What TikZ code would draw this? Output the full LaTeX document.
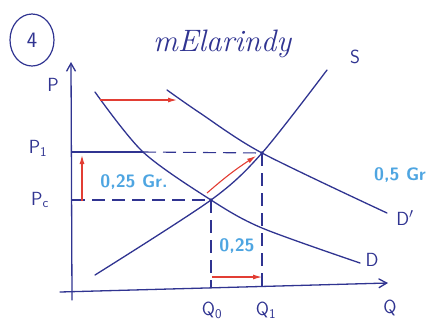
\documentclass[tikz,border=0pt]{standalone}
\usetikzlibrary{arrows.meta,shapes.geometric}
\definecolor{ink}{RGB}{48,52,145}
\definecolor{redink}{RGB}{226,62,52}
\definecolor{lightink}{RGB}{78,165,225}
\tikzset{
  curve/.style={ink,line width=1.3pt,line cap=round},
  axisline/.style={curve,-{Straight Barb[length=8pt,width=9pt]}},
  guide/.style={ink,line width=1.1pt,dash pattern=on 13pt off 7pt},
  shiftarrow/.style={redink,line width=1.1pt,-{Latex[length=9pt,width=5pt]}},
  lab/.style={ink,font=\fontsize{19}{21}\selectfont\sffamily},
  note/.style={lightink,font=\fontsize{18}{20}\selectfont\sffamily\bfseries}
}
\begin{document}
\begin{tikzpicture}[x=1pt,y=-1pt]
\useasboundingbox (0,0) rectangle (436,330);
% axes
\coordinate (ybot) at (72,300);
\coordinate (ytop) at (71,62);
\coordinate (xbeg) at (60,292);
\coordinate (xend) at (388,283);
\draw[axisline] (ybot) -- (ytop);
\draw[axisline] (xbeg) -- (xend);
% equilibria
\coordinate (E0) at (211,200);
\coordinate (E1) at (262,153);
\coordinate (P1) at (72,152);
\coordinate (Pc) at (72,200);
\coordinate (P1D) at (143,152);
\coordinate (Q0) at (211,288);
\coordinate (Q1) at (262,286);
% curves
\draw[curve] plot[smooth] coordinates {(95,275) (E0) (E1) (327,70)};
\draw[curve] plot[smooth] coordinates {(95,92) (P1D) (E0) (262,228) (360,263)};
\draw[curve] plot[smooth] coordinates {(167,90) (200,113) (E1) (387,213)};
\fill[ink] (E0) circle (1.8pt) (E1) circle (1.8pt);
% guides
\draw[curve,line width=1.1pt] (P1) -- (P1D);
\draw[guide] (P1D) -- (E1);
\draw[guide] (Pc) -- (E0);
\draw[guide] (E0) -- (Q0);
\draw[guide] (E1) -- (Q1);
% shifts
\coordinate (ra) at (100,100);
\coordinate (rb) at (177,100);
\draw[shiftarrow] (ra) -- (rb);
\coordinate (pa) at (82,201);
\coordinate (pb) at (82,155);
\draw[shiftarrow] (pa) -- (pb);
\coordinate (sa) at (207,193);
\coordinate (sb) at (256,156);
\draw[shiftarrow] (sa) to[bend left=4] (sb);
\coordinate (qa) at (212,277);
\coordinate (qb) at (262,277);
\draw[shiftarrow] (qa) -- (qb);
% labels
\node[ink,ellipse,draw,line width=1.2pt,minimum width=44pt,minimum height=52pt,inner sep=0pt,
  font=\fontsize{22}{24}\selectfont\sffamily] (num) at (32,40) {4};
\node[ink,font=\fontsize{31}{33}\selectfont\itshape] (title) at (222,44) {mElarindy};
\node[lab] (lP) at (53,85) {P};
\node[lab] (lP1) at (38,148) {P\textsubscript{1}};
\node[lab] (lPc) at (40,200) {P\textsubscript{c}};
\node[lab] (lQ0) at (212,310) {Q\textsubscript{0}};
\node[lab] (lQ1) at (266,310) {Q\textsubscript{1}};
\node[lab] (lQ) at (390,308) {Q};
\node[lab] (lS) at (355,57) {S};
\node[lab] (lD) at (372,260) {D};
\node[lab] (lDp) at (405,218) {D$'$};
\node[note] (n1) at (134,182) {0,25 Gr.};
\node[note] (n2) at (237,246) {0,25};
\node[note] (n3) at (400,175) {0,5 Gr};
\end{tikzpicture}
\end{document}
